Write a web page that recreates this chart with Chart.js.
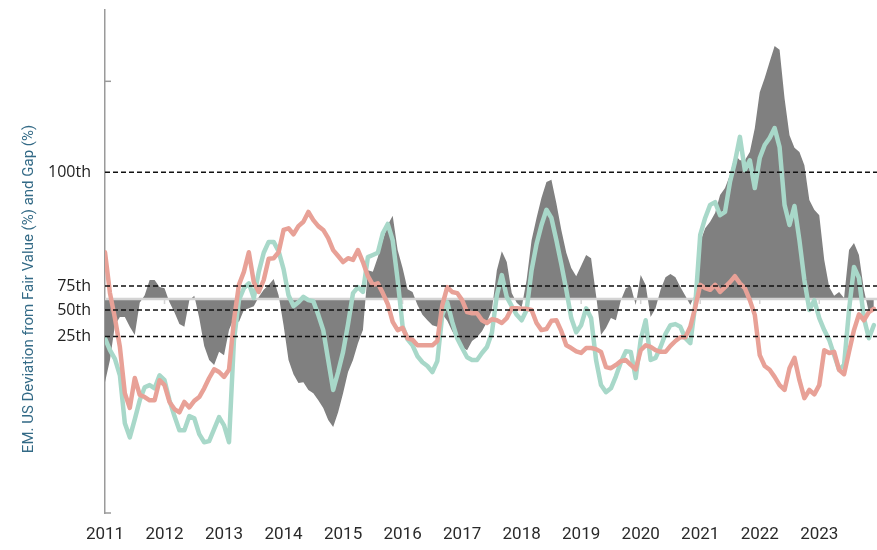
<!DOCTYPE html>
<html>
<head>
<meta charset="utf-8">
<script src="https://cdn.jsdelivr.net/npm/chart.js@4.4.0/dist/chart.umd.min.js"></script>
<style>
  html, body { margin: 0; padding: 0; background: #fff; }
  #wrap { width: 877px; height: 550px; }
</style>
</head>
<body>
<div id="wrap"><canvas id="myChart"></canvas></div>
<script>
// monthly series, first point = Jan 2011
var startYear = 2011;
var yearTicks = [2011, 2012, 2013, 2014, 2015, 2016, 2017, 2018, 2019, 2020, 2021, 2022, 2023];
var yTitle = "EM. US Deviation from Fair Value (%) and Gap (%)";

// percentile reference lines
var pctLabels = ["100th", "75th", "50th", "25th"];
var pctValues = [23.3, 2.4, -2.0, -6.9];

// gap (grey area)
var gap = [
  -15.3, -11.2, -4.8, -3.3, -3.3, -5.1, -6.6, -0.7, 0.7, 3.5, 3.5, 2.2,
  2.0, -0.6, -2.4, -4.6, -5.1, -0.2, 0.6, -3.5, -8.6, -11.2, -12.1, -9.7,
  -10.3, -5.7, -3.5, -4.2, -2.0, -1.7, -1.3, 0.4, 1.7, 2.6, 3.7, 0.7,
  -4.8, -11.2, -13.8, -15.4, -15.3, -16.7, -17.3, -18.6, -20.0, -22.2, -23.5, -20.8,
  -17.3, -13.4, -11.2, -8.1, -5.7, 5.3, 5.0, 7.7, 10.8, 13.6, 15.3, 9.0,
  5.7, 1.8, 1.3, -1.1, -2.9, -3.9, -4.8, -5.1, -2.8, -4.0, -5.9, -7.5,
  -8.8, -9.4, -7.7, -7.0, -5.9, -4.2, -2.0, 5.3, 8.8, 6.8, 1.1, -0.7,
  -1.5, 3.5, 10.8, 14.9, 18.6, 21.5, 21.9, 17.6, 12.7, 8.5, 5.7, 4.2,
  6.1, 8.1, 7.5, 0.7, -6.6, -5.3, -3.5, -3.9, -0.2, 2.0, 2.4, -1.1,
  4.4, 2.6, -3.3, -1.7, 1.7, 4.0, 4.6, 4.0, 2.2, 0.6, -1.1, 0.9,
  10.5, 13.0, 14.2, 15.8, 19.1, 20.4, 22.8, 26.5, 25.5, 25.5, 27.0, 31.4,
  38.0, 40.6, 43.6, 46.5, 45.8, 36.9, 30.1, 27.8, 27.0, 24.6, 18.2, 16.4,
  15.4, 7.2, 2.2, 0.6, 1.3, 0.2, 9.0, 10.3, 8.1, 1.7, -2.4, -2.0
];

// EM deviation from fair value (teal)
var emDev = [
  -7.2, -9.4, -11.0, -14.0, -22.8, -25.4, -22.1, -18.6, -16.2, -15.8, -16.4, -14.0,
  -14.9, -18.6, -21.5, -24.1, -24.1, -21.5, -21.9, -24.8, -26.3, -26.1, -23.9, -21.7,
  -23.2, -26.3, -7.5, -0.2, 2.0, 2.9, 0.2, 5.0, 8.5, 10.5, 10.5, 8.8,
  5.5, 0.7, -1.3, -0.6, 0.4, -0.2, -0.4, -2.9, -5.7, -11.2, -16.7, -13.4,
  -9.7, -4.6, 1.1, 2.2, 1.3, 7.7, 8.1, 8.5, 12.1, 13.8, 10.8, 3.5,
  -5.0, -7.4, -8.5, -10.5, -11.6, -12.3, -13.4, -11.4, -2.9, -0.6, -4.2, -7.2,
  -9.0, -10.7, -11.2, -11.2, -9.9, -8.8, -6.2, 0.7, 4.4, 0.4, -1.3, -2.9,
  -3.9, -2.0, 5.3, 10.1, 13.6, 16.4, 14.9, 10.8, 6.4, 1.7, -3.5, -6.1,
  -4.8, -1.7, -3.5, -11.2, -15.8, -17.1, -16.4, -14.2, -11.6, -9.6, -9.7, -14.5,
  -7.5, -3.9, -11.2, -10.8, -8.8, -6.4, -4.8, -4.6, -5.1, -7.2, -8.1, -1.1,
  11.8, 14.9, 17.3, 17.8, 15.4, 16.0, 21.5, 25.2, 29.8, 23.7, 25.5, 20.4,
  25.9, 28.3, 29.6, 31.4, 27.9, 17.3, 13.6, 17.1, 10.8, 3.5, -2.0, -0.2,
  -3.5, -5.7, -7.5, -10.3, -13.0, -12.1, -2.0, 5.9, 3.9, -3.5, -7.2, -4.8
];

// US deviation from fair value (red)
var usDev = [
  8.6, 1.1, -3.5, -8.8, -17.3, -20.0, -14.5, -17.6, -18.0, -18.6, -18.6, -14.9,
  -15.8, -18.9, -20.2, -20.8, -18.9, -19.9, -18.7, -18.0, -16.4, -14.5, -12.9, -13.4,
  -14.3, -13.0, -3.9, 2.6, 5.0, 8.6, 3.1, 1.3, 3.5, 7.4, 7.5, 8.6,
  12.7, 13.0, 11.9, 13.4, 14.2, 16.0, 14.5, 13.4, 12.7, 11.2, 9.0, 7.9,
  6.8, 7.5, 7.2, 9.0, 6.8, 4.2, 2.6, 2.9, 1.1, -0.9, -4.2, -5.7,
  -5.3, -7.2, -7.5, -8.5, -8.5, -8.5, -8.5, -7.7, -1.1, 2.2, 1.3, 1.1,
  -0.2, -2.4, -2.6, -2.6, -3.9, -4.4, -3.7, -3.9, -4.4, -3.5, -1.7, -1.7,
  -1.8, -1.8, -2.0, -4.4, -5.7, -5.5, -4.0, -3.9, -5.9, -8.5, -9.0, -9.6,
  -9.9, -9.0, -9.0, -9.2, -9.7, -12.5, -12.7, -12.1, -11.4, -11.2, -12.1, -12.9,
  -9.4, -8.5, -8.8, -9.4, -9.7, -9.7, -8.6, -7.7, -7.0, -7.0, -5.1, -1.5,
  2.6, 2.0, 1.7, 2.6, 1.3, 2.2, 3.1, 4.2, 2.9, 2.0, -0.2, -2.9,
  -10.3, -12.3, -13.0, -14.3, -15.8, -16.7, -12.7, -10.8, -14.9, -18.2, -16.7, -17.5,
  -15.8, -9.4, -9.9, -9.7, -13.0, -13.8, -9.7, -5.7, -2.8, -3.9, -2.4, -1.8
];

var xMax = 2023.97;
var yMin = -39.3, yMax = 53.1, yMark = 40;

function toPoints(values) {
  return values.map(function(v, i) {
    return {x: startYear + i / 12, y: v};
  });
}

function flatLine(v) {
  return [{x: startYear, y: v}, {x: xMax, y: v}];
}

var datasets = [];
pctValues.forEach(function(v, i) {
  datasets.push({
    label: pctLabels[i],
    data: flatLine(v),
    borderColor: '#111',
    borderWidth: 1.5,
    borderDash: [5, 3],
    pointRadius: 0,
    order: 0
  });
});
datasets.push({
  label: 'US',
  data: toPoints(usDev),
  borderColor: '#e8a197',
  borderWidth: 4.5,
  borderJoinStyle: 'round',
  borderCapStyle: 'round',
  pointRadius: 0,
  order: 1
});
datasets.push({
  label: 'EM',
  data: toPoints(emDev),
  borderColor: '#a8d8c9',
  borderWidth: 4.5,
  borderJoinStyle: 'round',
  borderCapStyle: 'round',
  pointRadius: 0,
  order: 2
});
datasets.push({
  label: 'zero',
  data: flatLine(0),
  borderColor: '#d4d4d4',
  borderWidth: 2.5,
  pointRadius: 0,
  order: 3
});
datasets.push({
  label: 'Gap',
  data: toPoints(gap),
  borderWidth: 0,
  backgroundColor: '#808080',
  fill: 'origin',
  pointRadius: 0,
  order: 4
});

var extras = {
  id: 'extras',
  beforeDatasetsDraw: function(chart) {
    // tiny year marks hanging off the zero line
    var ctx = chart.ctx;
    var xs = chart.scales.x, ys = chart.scales.y;
    var zy = ys.getPixelForValue(0);
    ctx.save();
    ctx.strokeStyle = '#d4d4d4';
    ctx.lineWidth = 1.5;
    yearTicks.slice(1).forEach(function(yr) {
      var px = xs.getPixelForValue(yr);
      ctx.beginPath();
      ctx.moveTo(px, zy);
      ctx.lineTo(px, zy + 5);
      ctx.stroke();
    });
    ctx.restore();
  },
  afterDraw: function(chart) {
    var ctx = chart.ctx;
    var ys = chart.scales.y;
    var left = chart.chartArea.left;
    ctx.save();
    // short inward marks on the value axis
    ctx.strokeStyle = '#9a9a9a';
    ctx.lineWidth = 1.5;
    [yMark, yMin].forEach(function(v) {
      var py = ys.getPixelForValue(v);
      ctx.beginPath();
      ctx.moveTo(left, py);
      ctx.lineTo(left + 6, py);
      ctx.stroke();
    });
    // rotated axis title
    ctx.translate(29, 289);
    ctx.rotate(-Math.PI / 2);
    ctx.font = '15px Roboto, sans-serif';
    ctx.fillStyle = '#336a86';
    ctx.textAlign = 'center';
    ctx.textBaseline = 'middle';
    ctx.fillText(yTitle, 0, 0);
    ctx.restore();
  }
};

var ctx = document.getElementById("myChart");
var chart = new Chart(ctx, {
  type: 'line',
  data: { datasets: datasets },
  options: {
    responsive: true,
    maintainAspectRatio: false,
    animation: false,
    layout: { padding: { top: 10, right: 0, bottom: 0, left: 0 } },
    plugins: {
      legend: { display: false },
      tooltip: { enabled: false },
      filler: { propagate: false }
    },
    scales: {
      x: {
        type: 'linear',
        min: startYear,
        max: xMax,
        offset: false,
        afterBuildTicks: function(s) {
          s.ticks = yearTicks.map(function(v) { return {value: v}; });
        },
        afterFit: function(s) { s.height = 37; },
        grid: { display: false },
        border: { display: false },
        ticks: {
          autoSkip: false,
          maxRotation: 0,
          padding: 4,
          color: '#2a2a2a',
          font: { family: 'Roboto, sans-serif', size: 17 },
          callback: function(v) { return String(v); }
        }
      },
      y: {
        min: yMin,
        max: yMax,
        afterBuildTicks: function(s) {
          s.ticks = [yMin].concat(pctValues, [yMark]).map(function(v) { return {value: v}; });
        },
        afterFit: function(s) {
          s.width = 105;
          s.paddingTop = 0;
          s.paddingBottom = 0;
        },
        grid: { display: false },
        border: { display: true, color: '#9a9a9a', width: 1.5 },
        ticks: {
          autoSkip: false,
          padding: 6,
          color: '#222',
          font: { family: '"Open Sans", sans-serif', size: 16 },
          callback: function(v) {
            var i = pctValues.indexOf(v);
            return i >= 0 ? pctLabels[i] : '';
          }
        }
      }
    }
  },
  plugins: [extras]
});
</script>
</body>
</html>
